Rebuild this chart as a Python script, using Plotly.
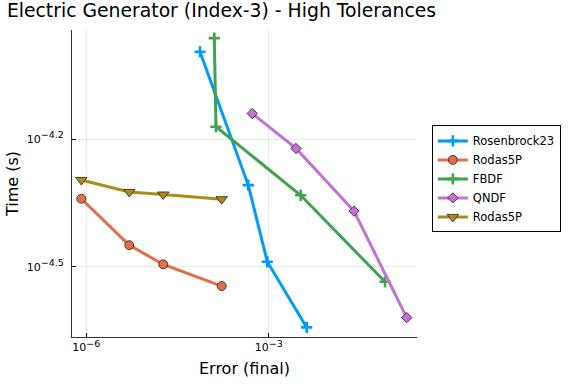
import plotly.graph_objects as go

# data (log10 values)
ros_x = [-4.130, -3.336, -3.023, -2.375]
ros_y = [-3.995, -4.308, -4.488, -4.642]
fbdf_x = [-3.895, -3.867, -2.474, -1.087]
fbdf_y = [-3.963, -4.171, -4.332, -4.535]
qndf_x = [-3.270, -2.551, -1.597, -0.730]
qndf_y = [-4.140, -4.222, -4.369, -4.619]
rodas_x = [-6.082, -5.293, -4.734, -3.773]
rodas_y = [-4.340, -4.449, -4.494, -4.545]
rodas2_x = [-6.082, -5.293, -4.734, -3.773]
rodas2_y = [-4.296, -4.324, -4.330, -4.341]

x_tickvals = [-6, -3]
x_tickexp = ["−6", "−3"]
y_tickvals = [-4.5, -4.2]
y_tickexp = ["−4.5", "−4.2"]

def p10(v):
    return [10 ** a for a in v]

def sup_labels(exps):
    return ["10<sup><span style=\"font-size:9.5px\">%s</span></sup>" % e for e in exps]

fig = go.Figure()
series = [
    ("Rosenbrock23", ros_x, ros_y, "#009AFA", "cross-thin", 8, "#009AFA", 2.6),
    ("Rodas5P", rodas_x, rodas_y, "#E36F47", "circle", 9, "#222222", 0.8),
    ("FBDF", fbdf_x, fbdf_y, "#3EA44E", "cross-thin", 8, "#3EA44E", 2.6),
    ("QNDF", qndf_x, qndf_y, "#C371D2", "diamond", 8, "#222222", 0.8),
    ("Rodas5P", rodas2_x, rodas2_y, "#AC8D18", "triangle-down", 10, "#222222", 0.8),
]
for name, xs, ys, col, sym, sz, lc, lw in series:
    fig.add_trace(go.Scatter(
        x=p10(xs), y=p10(ys), name=name, mode="lines+markers",
        line=dict(color=col, width=3),
        marker=dict(symbol=sym, size=sz, color=col, line=dict(color=lc, width=lw)),
    ))

fig.update_layout(
    width=576, height=384,
    margin=dict(l=72, r=159, t=30, b=47),
    paper_bgcolor="white", plot_bgcolor="white",
    font=dict(family="DejaVu Sans", color="black", size=11),
    title=dict(text="Electric Generator (Index-3) - High Tolerances",
               x=0.012, xanchor="left", y=0.972, yanchor="middle",
               font=dict(size=18.8), automargin=False),
    showlegend=True,
    legend=dict(x=1.043, y=0.515, xanchor="left", yanchor="middle",
                bordercolor="black", borderwidth=1, font=dict(size=11.5),
                tracegroupgap=0, itemwidth=30),
)
fig.update_xaxes(
    type="log", range=[-6.235, -0.561], automargin=False,
    tickmode="array", tickvals=p10(x_tickvals), ticktext=sup_labels(x_tickexp),
    ticks="inside", ticklen=4, tickcolor="black",
    showline=True, linecolor="#333333", linewidth=1, mirror=False,
    showgrid=True, gridcolor="rgba(0,0,0,0.08)", gridwidth=0.5,
    zeroline=False,
    title=dict(text="Error (final)", font=dict(size=16), standoff=9),
    tickfont=dict(size=11),
)
fig.update_yaxes(
    type="log", range=[-4.6645, -3.944], automargin=False,
    tickmode="array", tickvals=p10(y_tickvals), ticktext=sup_labels(y_tickexp),
    ticks="inside", ticklen=4, tickcolor="black", ticklabelstandoff=5,
    showline=True, linecolor="#333333", linewidth=1, mirror=False,
    showgrid=True, gridcolor="rgba(0,0,0,0.08)", gridwidth=0.5,
    zeroline=False,
    title=dict(text="Time (s)", font=dict(size=16), standoff=4),
    tickfont=dict(size=11),
)
fig.write_html("out.html", config={"displayModeBar": False},
               post_script="document.body.style.margin='0';")
